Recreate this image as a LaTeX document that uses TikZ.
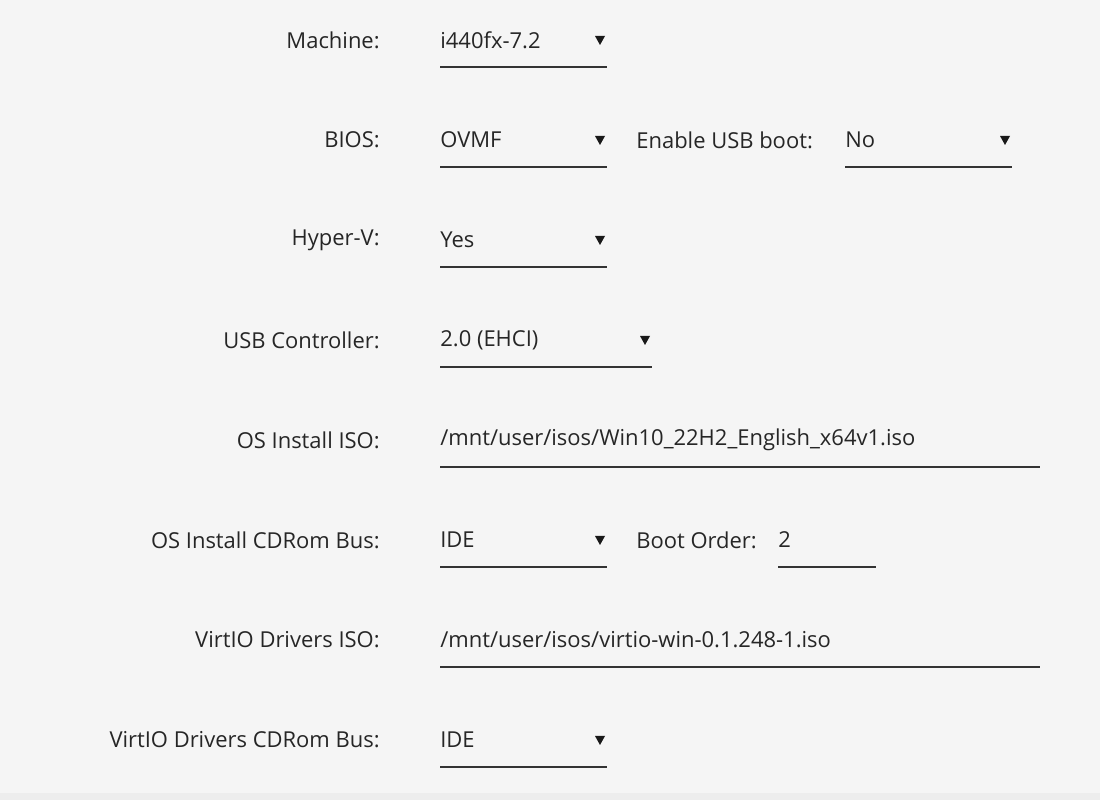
\documentclass[tikz,border=0pt]{standalone}
\usepackage{fontspec}
\setmainfont{Open Sans}
\tikzset{
  lbl/.style={anchor=east, inner sep=0pt, font=\fontsize{12.5}{14}\selectfont, text=black!85},
  val/.style={anchor=west, inner sep=0pt, font=\fontsize{12.5}{14}\selectfont, text=black!85},
  uline/.style={line width=0.7pt, black!80},
  tri/.style={fill=black!90}
}
\newcommand{\dropmark}[1]{\fill[tri] ($(#1)+(-5,-4)$) -- ($(#1)+(5,-4)$) -- ($(#1)+(0,5)$) -- cycle;}
\usetikzlibrary{calc}
\begin{document}
\begin{tikzpicture}[x=0.02cm, y=-0.02cm]
  % background
  \fill[black!4] (0,0) rectangle (1100,800);
  \fill[black!7] (0,793) rectangle (1100,800);
  \useasboundingbox (0,0) rectangle (1100,800);
  % labels
  \node[lbl] (machine) at (380,40) {Machine:};
  \node[lbl] (bios) at (380,140) {BIOS:};
  \node[lbl] (hyperv) at (380,240) {Hyper-V:};
  \node[lbl] (usbctl) at (380,340) {USB Controller:};
  \node[lbl] (osiso) at (380,440) {OS Install ISO:};
  \node[lbl] (osbus) at (380,540) {OS Install CDRom Bus:};
  \node[lbl] (vioiso) at (380,640) {VirtIO Drivers ISO:};
  \node[lbl] (viobus) at (380,740) {VirtIO Drivers CDRom Bus:};
  % values
  \node[val] (vmachine) at (440,40) {i440fx-7.2};
  \node[val] (vbios) at (440,140) {OVMF};
  \node[val] (vhyperv) at (440,240) {Yes};
  \node[val] (vusbctl) at (440,340) {2.0 (EHCI)};
  \node[val] (vosiso) at (440,440) {/mnt/user/isos/Win10\_22H2\_English\_x64v1.iso};
  \node[val] (vosbus) at (440,540) {IDE};
  \node[val] (vvioiso) at (440,640) {/mnt/user/isos/virtio-win-0.1.248-1.iso};
  \node[val] (vviobus) at (440,740) {IDE};
  % side fields
  \node[val] (usbboot) at (636,140) {Enable USB boot:};
  \node[val] (vusbboot) at (845,140) {No};
  \node[val] (bootord) at (636,540) {Boot Order:};
  \node[val] (vbootord) at (778,540) {2};
  % underlines
  \foreach \y in {67,167,267,567,767} \draw[uline] (440,\y) -- (607,\y);
  \draw[uline] (440,367) -- (652,367);
  \draw[uline] (440,467) -- (1040,467);
  \draw[uline] (440,667) -- (1040,667);
  \draw[uline] (845,167) -- (1012,167);
  \draw[uline] (778,567) -- (876,567);
  % dropdown arrows
  \foreach \y in {40,140,240,540,740} {\coordinate (a) at (600,\y); \dropmark{a}}
  \coordinate (b) at (645,340); \dropmark{b}
  \coordinate (c) at (1005,140); \dropmark{c}
\end{tikzpicture}
\end{document}
